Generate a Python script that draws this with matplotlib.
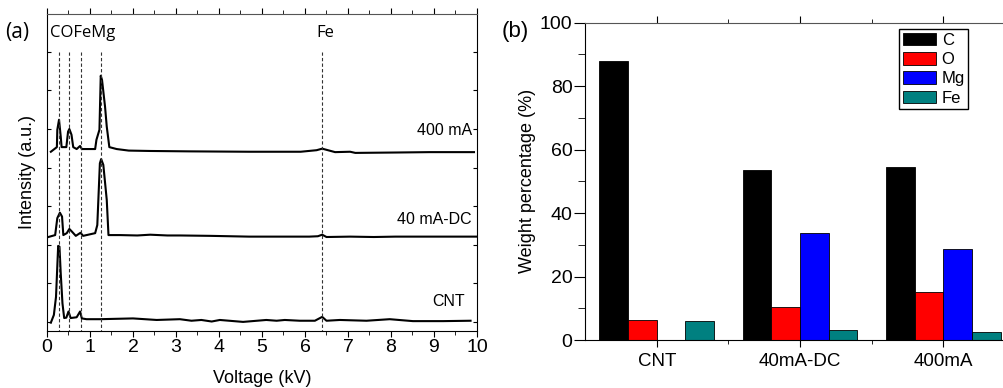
import numpy as np
import matplotlib
matplotlib.use("Agg")
from matplotlib import pyplot as plt
from matplotlib.ticker import MultipleLocator, FixedLocator

plt.rcParams['font.family'] = 'Liberation Sans'

# ---- panel (a): EDS spectra ----
kv_cnt = [0.09, 0.16, 0.21, 0.26, 0.29, 0.32, 0.36, 0.40, 0.45, 0.50, 0.55, 0.69, 0.77, 0.81, 0.92,
          1.23, 2.0, 2.55, 3.09, 3.36, 3.59, 3.83, 4.02, 4.56, 5.1, 5.34, 5.53, 5.88, 6.23, 6.4,
          6.5, 6.81, 7.43, 7.97, 8.51, 9.21, 9.85]
int_cnt = [-0.02, 0.18, 0.65, 1.97, 1.95, 1.25, 0.48, 0.10, 0.11, 0.27, 0.10, 0.12, 0.27, 0.09, 0.07,
           0.07, 0.09, 0.05, 0.07, 0.03, 0.05, 0.01, 0.05, 0.0, 0.05, 0.03, 0.05, 0.03, 0.03, 0.13,
           0.03, 0.05, 0.03, 0.07, 0.02, 0.02, 0.03]

kv_dc = [0.0, 0.19, 0.24, 0.30, 0.35, 0.38, 0.46, 0.52, 0.58, 0.67, 0.78, 0.84, 1.12, 1.17, 1.23,
         1.26, 1.31, 1.39, 1.43, 1.70, 2.1, 2.4, 2.8, 3.1, 3.8, 4.7, 5.5, 6.1, 6.3, 6.4, 6.5,
         7.05, 7.6, 8.1, 9.0, 10.0]
int_dc = [-0.02, 0.04, 0.48, 0.62, 0.52, 0.04, 0.09, 0.20, 0.13, 0.02, 0.10, 0.02, 0.09, 0.30, 1.90,
          2.01, 1.86, 0.95, 0.04, 0.04, 0.03, 0.05, 0.03, 0.03, 0.02, 0.0, 0.0, 0.0, 0.01, 0.05, -0.01,
          0.0, -0.01, 0.0, 0.0, 0.0]

kv_400 = [0.09, 0.23, 0.24, 0.28, 0.32, 0.34, 0.45, 0.49, 0.52, 0.57, 0.61, 0.69, 0.77, 0.81, 1.12,
          1.15, 1.22, 1.25, 1.28, 1.35, 1.39, 1.45, 1.62, 1.9, 2.4, 3.3, 4.7, 5.9, 6.27, 6.40,
          6.70, 7.05, 7.17, 8.1, 8.9, 9.93]
int_400 = [-0.03, 0.09, 0.54, 0.80, 0.36, 0.09, 0.09, 0.49, 0.56, 0.41, 0.09, 0.04, 0.12, 0.04, 0.04,
           0.28, 0.54, 1.94, 1.83, 1.14, 0.62, 0.09, 0.04, 0.0, -0.01, -0.02, -0.03, -0.03, 0.01, 0.05,
           -0.04, -0.03, -0.06, -0.05, -0.04, -0.04]

spec_names = ['CNT', '40 mA-DC', '400 mA']
spec_offsets = [0.0, 2.21, 4.44]
spec_label_x = [9.72, 9.88, 9.88]
spec_label_y = [0.53, 2.66, 4.96]
line_kv = [0.29, 0.51, 0.78, 1.26, 6.4]

# ---- panel (b): weight percentages ----
samples = ['CNT', '40mA-DC', '400mA']
elements = ['C', 'O', 'Mg', 'Fe']
w_C = [88.0, 53.5, 54.6]
w_O = [6.3, 10.3, 15.0]
w_Mg = [0.0, 33.7, 28.6]
w_Fe = [5.9, 3.0, 2.4]
bar_colors = ['#000000', '#FF0000', '#0000FF', '#008080']

fig = plt.figure(figsize=(10.04, 3.88), dpi=100)

# ================= (a) =================
ax1 = fig.add_axes([0.0468, 0.1480, 0.4283, 0.8159])
spectra = [(kv_cnt, int_cnt), (kv_dc, int_dc), (kv_400, int_400)]
for (kv, inten), off in zip(spectra, spec_offsets):
    ax1.plot(kv, np.array(inten) + off, color='black', lw=1.5)
ax1.vlines(line_kv, -0.3, 7.0, colors='#333333', linestyles=(0, (3, 2)), lw=0.8)
for name, lx, ly in zip(spec_names, spec_label_x, spec_label_y):
    ax1.text(lx, ly, name, ha='right', va='center', fontsize=11.5)
ax1.text(0.07, 7.49, 'COFeMg', ha='left', va='center', fontsize=12, family='Open Sans')
ax1.text(6.47, 7.49, 'Fe', ha='center', va='center', fontsize=12, family='Open Sans')
ax1.set_xlim(0, 10)
ax1.set_ylim(-0.225, 7.98)
ax1.xaxis.set_major_locator(MultipleLocator(1))
ax1.xaxis.set_minor_locator(MultipleLocator(0.5))
ax1.yaxis.set_major_locator(MultipleLocator(1))
ax1.set_yticklabels([])
ax1.tick_params(axis='x', which='major', direction='out', length=4, labelsize=14, top=True, pad=2)
ax1.tick_params(axis='x', which='minor', direction='out', length=3, top=True)
ax1.tick_params(axis='y', which='major', direction='in', length=3, right=True)
ax1.set_xlabel('Voltage (kV)', fontsize=13, labelpad=10)
ax1.set_ylabel('Intensity (a.u.)', fontsize=13, labelpad=4.5)
ax1.spines['top'].set_color('#555555')
fig.text(0.005, 0.915, '(a)', ha='left', va='center', fontsize=15, family='Open Sans')

# ================= (b) =================
ax2 = fig.add_axes([0.5827, 0.1237, 0.4283, 0.8183])
x = np.arange(len(samples))
w = 0.2
for i, (vals, col) in enumerate(zip([w_C, w_O, w_Mg, w_Fe], bar_colors)):
    ax2.bar(x + (i - 1.5) * w, vals, width=w, color=col, edgecolor='black', lw=0.6, label=elements[i])
ax2.set_xlim(-0.5, 2.5)
ax2.set_ylim(0, 100)
ax2.set_xticks(x)
ax2.set_xticklabels(samples, fontsize=13.5)
ax2.xaxis.set_minor_locator(FixedLocator([0.5, 1.5]))
ax2.yaxis.set_major_locator(MultipleLocator(20))
ax2.yaxis.set_minor_locator(MultipleLocator(10))
ax2.tick_params(axis='x', which='major', direction='out', length=5, top=True, pad=4)
ax2.tick_params(axis='x', which='minor', direction='out', length=3, top=True)
ax2.tick_params(axis='y', which='major', direction='out', length=8, labelsize=14, pad=1)
ax2.tick_params(axis='y', which='minor', direction='out', length=5)
ax2.spines['top'].set_color('#555555')
ax2.set_ylabel('Weight percentage (%)', fontsize=13, labelpad=3)
leg = ax2.legend(loc='upper right', bbox_to_anchor=(0.9644, 0.9245), bbox_transform=fig.transFigure,
                 borderaxespad=0, fontsize=12, fancybox=False, framealpha=1, edgecolor='black',
                 handlelength=2.0, handleheight=0.8, handletextpad=0.35, labelspacing=0.25,
                 borderpad=0.2)
leg.get_frame().set_linewidth(1.0)
fig.text(0.5, 0.92, '(b)', ha='left', va='center', fontsize=16)

fig.savefig('out.png', dpi=100)
